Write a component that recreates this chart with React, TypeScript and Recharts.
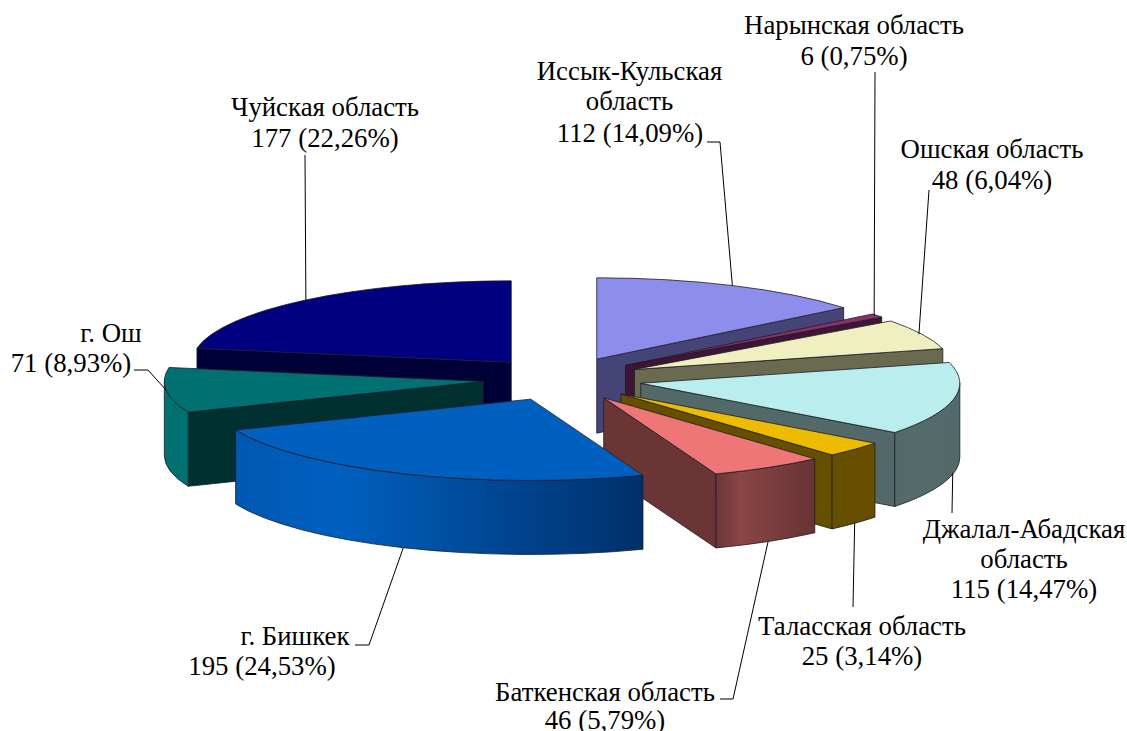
import React from 'react';
import { PieChart, Pie } from 'recharts';

const regionNames = [
    ['Иссык-Кульская', 'область'],
    ['Нарынская область'],
    ['Ошская область'],
    ['Джалал-Абадская', 'область'],
    ['Таласская область'],
    ['Баткенская область'],
    ['г. Бишкек'],
    ['г. Ош'],
    ['Чуйская область'],
];
const regionCounts = [112, 6, 48, 115, 25, 46, 195, 71, 177];

const topColors = ['#8D8DEC', '#8F2F66', '#EFEFBF', '#BAEDED', '#EDBB00', '#EE7676', '#0060C0', '#007070', '#000080'];
const sideColors = ['#444476', '#3F1535', '#6A6A50', '#536868', '#665000', '#6B3535', '#003060', '#003030', '#000038'];
// left, highlight, right of the curved outer wall
const rimColors = [
    ['#444476', '#444476', '#444476'],
    ['#3F1535', '#3F1535', '#3F1535'],
    ['#6A6A50', '#6A6A50', '#6A6A50'],
    ['#536868', '#566C6C', '#536868'],
    ['#665000', '#665000', '#665000'],
    ['#6C3636', '#8A4646', '#663333'],
    ['#0058B0', '#0060C0', '#00306A'],
    ['#007070', '#007070', '#007070'],
    ['#000038', '#000038', '#000038'],
];

// slices are painted back to front, so each layer holds the slices that may overlap the next
const paintLayers = [[0, 1, 2, 3, 4, 5, 8], [7], [6]];

// text lines and the leader line tail of every label, in the same order as the regions
const labelLayout = [
    { lines: [[629.5, 80], [629.5, 110], [630, 142]], tail: [[720, 142], [707, 142]], onWall: false, nudge: -1 },
    { lines: [[854, 34], [854, 65]], tail: [[875, 72]], onWall: false, nudge: -3 },
    { lines: [[992, 158], [992, 189]], tail: [[929, 190]], onWall: false, nudge: -3 },
    { lines: [[1024, 538], [1024, 568], [1024, 598]], tail: [[952, 513]], onWall: true, nudge: -1 },
    { lines: [[862, 635], [862, 665]], tail: [[853, 607]], onWall: true, nudge: 0 },
    { lines: [[605, 701], [605, 729]], tail: [[733, 699], [720, 699]], onWall: true, nudge: 0 },
    { lines: [[295, 645], [262, 675]], tail: [[369, 645], [355, 645]], onWall: true, nudge: 0 },
    { lines: [[111, 342], [71, 372]], tail: [[148, 370], [134, 370]], onWall: false, nudge: 0 },
    { lines: [[325, 116], [325, 147]], tail: [[305, 155]], onWall: false, nudge: 0 },
];

const WIDTH = 1127;
const HEIGHT = 731;
const CX = 562.6;
const CY = 379;
const RADIUS = 319;
const TILT = 0.255;
const DEPTH = 74;
const EXPLODE = 0.25;
const RAD = Math.PI / 180;
const FONT = '"Liberation Serif", "Times New Roman", serif';
const EDGE = '#1c1c2c';

function apexOf(cx: number, cy: number, r: number, mid: number) {
    return {
        x: cx + EXPLODE * r * Math.cos(mid * RAD),
        y: cy - EXPLODE * 1.08 * r * TILT * Math.sin(mid * RAD),
    };
}

function rimPoint(ax: number, ay: number, r: number, angle: number) {
    return { x: ax + r * Math.cos(angle * RAD), y: ay - r * TILT * Math.sin(angle * RAD) };
}

function Slice3D(props: any) {
    const { cx, cy, outerRadius: r, startAngle: s, endAngle: e, midAngle: mid, index, layer } = props;
    if (!layer.includes(index)) return <g />;
    const ry = r * TILT;
    const { x: ax, y: ay } = apexOf(cx, cy, r, mid);
    const ps = rimPoint(ax, ay, r, s);
    const pe = rimPoint(ax, ay, r, e);
    const large = Math.abs(s - e) > 180 ? 1 : 0;
    const top = `M${ax},${ay} L${ps.x},${ps.y} A${r},${ry} 0 ${large} 1 ${pe.x},${pe.y} Z`;

    const walls: React.ReactNode[] = [];
    const radialWall = (p: { x: number; y: number }, key: string) => (
        <path
            key={key}
            d={`M${ax},${ay} L${p.x},${p.y} L${p.x},${p.y + DEPTH} L${ax},${ay + DEPTH} Z`}
            fill={sideColors[index]}
            stroke={EDGE}
            strokeWidth={0.8}
        />
    );
    if (Math.cos(s * RAD) < 0) walls.push(radialWall(ps, 'start'));
    if (Math.cos(e * RAD) > 0) walls.push(radialWall(pe, 'end'));

    // the curved wall only shows where the rim faces the viewer
    [-360, 0].forEach(k => {
        const hi = Math.min(s, k);
        const lo = Math.max(e, k - 180);
        if (hi <= lo) return;
        const a = rimPoint(ax, ay, r, hi);
        const b = rimPoint(ax, ay, r, lo);
        walls.push(
            <path
                key={`rim${k}`}
                d={`M${a.x},${a.y} A${r},${ry} 0 0 1 ${b.x},${b.y} L${b.x},${b.y + DEPTH} A${r},${ry} 0 0 0 ${a.x},${a.y + DEPTH} Z`}
                fill={`url(#rim-${index})`}
                stroke={EDGE}
                strokeWidth={0.8}
            />
        );
    });

    return (
        <g>
            {walls}
            <path d={top} fill={topColors[index]} stroke={EDGE} strokeWidth={0.8} />
        </g>
    );
}

function SliceLabel(props: any) {
    const { cx, cy, outerRadius: r, midAngle: mid, index, value, percent } = props;
    const layout = labelLayout[index];
    const { x: ax, y: ay } = apexOf(cx, cy, r, mid);
    const start = rimPoint(ax, ay, r, mid);
    const startY = layout.onWall ? start.y + DEPTH : start.y;
    const pct = (percent * 100).toFixed(2).replace('.', ',');
    const lines = [...regionNames[index], `${value} (${pct}%)`];
    const leader = [[start.x + layout.nudge, startY], ...layout.tail].map(p => p.join(',')).join(' ');
    return (
        <g>
            <polyline points={leader} fill="none" stroke="#000" strokeWidth={1} />
            {lines.map((line, i) => (
                <text
                    key={i}
                    x={layout.lines[i][0]}
                    y={layout.lines[i][1]}
                    textAnchor="middle"
                    fontFamily={FONT}
                    fontSize={26.8}
                    fill="#000"
                >
                    {line}
                </text>
            ))}
        </g>
    );
}

export default function App() {
    const data = regionNames.map((n, i) => ({ name: n.join(' '), value: regionCounts[i] }));
    const pieProps = {
        data,
        dataKey: 'value',
        cx: CX,
        cy: CY,
        outerRadius: RADIUS,
        startAngle: 90,
        endAngle: -270,
        stroke: 'none',
        isAnimationActive: false,
        labelLine: false,
    };
    return (
        <div style={{ position: 'absolute', left: 0, top: 0, width: WIDTH, height: HEIGHT, background: '#fff', overflow: 'hidden' }}>
            <PieChart width={WIDTH} height={HEIGHT} margin={{ top: 0, right: 0, bottom: 0, left: 0 }}>
                <defs>
                    {rimColors.map((c, i) => (
                        <linearGradient key={i} id={`rim-${i}`} x1="0" y1="0" x2="1" y2="0">
                            <stop offset="0%" stopColor={c[0]} />
                            <stop offset="25%" stopColor={c[1]} />
                            <stop offset="100%" stopColor={c[2]} />
                        </linearGradient>
                    ))}
                </defs>
                {paintLayers.map((layer, i) => (
                    <Pie key={i} {...pieProps} shape={(p: any) => <Slice3D {...p} layer={layer} />} />
                ))}
                <Pie {...pieProps} shape={() => <g />} label={(p: any) => <SliceLabel {...p} />} />
            </PieChart>
        </div>
    );
}
